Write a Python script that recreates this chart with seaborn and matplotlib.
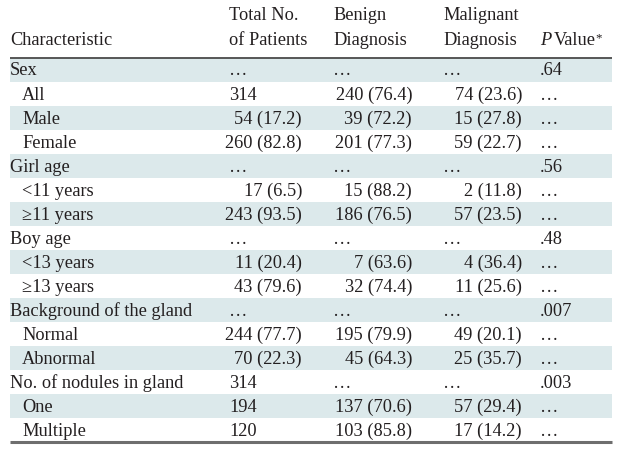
import matplotlib
matplotlib.use("Agg")
import matplotlib.pyplot as plt
import seaborn as sns

# table content
labels = ["Sex", "All", "Male", "Female", "Girl age", "<11 years", "\u226511 years",
          "Boy age", "<13 years", "\u226513 years", "Background of the gland",
          "Normal", "Abnormal", "No. of nodules in gland", "One", "Multiple"]
indent = [0, 1, 1, 1, 0, 1, 1, 0, 1, 1, 0, 1, 1, 0, 1, 1]
E = "\u2026"
total = [E, "314", "54 (17.2)", "260 (82.8)", E, "17 (6.5)", "243 (93.5)",
         E, "11 (20.4)", "43 (79.6)", E, "244 (77.7)", "70 (22.3)", "314", "194", "120"]
benign = [E, "240 (76.4)", "39 (72.2)", "201 (77.3)", E, "15 (88.2)", "186 (76.5)",
          E, "7 (63.6)", "32 (74.4)", E, "195 (79.9)", "45 (64.3)", E, "137 (70.6)", "103 (85.8)"]
malignant = [E, "74 (23.6)", "15 (27.8)", "59 (22.7)", E, "2 (11.8)", "57 (23.5)",
             E, "4 (36.4)", "11 (25.6)", E, "49 (20.1)", "25 (35.7)", E, "57 (29.4)", "17 (14.2)"]
pvalue = [".64", E, E, E, ".56", E, E, ".48", E, E, ".007", E, E, ".003", E, E]

headers_top = ["", "Total No.", "Benign", "Malignant"]
headers_bot = ["Characteristic", "of Patients", "Diagnosis", "Diagnosis"]

sns.set_theme(style="white")
plt.rcParams["font.family"] = ["Liberation Serif", "DejaVu Serif"]

fig = plt.figure(figsize=(6.18, 4.56), dpi=100)
ax = fig.add_axes([0, 0, 1, 1])
ax.set_xlim(0, 618)
ax.set_ylim(16.04, -2.958)
ax.axis("off")

ink = "#231f20"
shade = "#dce9eb"
fs = 13.2

x0, x1 = 10, 612
# column anchors: (left start, right end)
cols = [(229, 302), (333, 412), (443, 522)]

for i, lab in enumerate(labels):
    if i % 2 == 0:
        ax.fill_between([x0, x1], i - 0.5, i + 0.5, color=shade, lw=0, zorder=0)
    ax.text(x0 + (12 if indent[i] else 0), i, lab, fontsize=fs, color=ink,
            va="center", ha="left")
    for (xl, xr), col in zip(cols, [total, benign, malignant]):
        v = col[i]
        if "(" in v:
            ax.text(xr, i, v, fontsize=fs, color=ink, va="center", ha="right")
        else:
            ax.text(xl, i, v, fontsize=fs, color=ink, va="center", ha="left")
    ax.text(540, i, pvalue[i], fontsize=fs, color=ink, va="center", ha="left")

# header
for (xl, xr), t, b in zip([(x0, 0)] + cols, headers_top, headers_bot):
    ax.text(xl, -2.33, t, fontsize=fs, color=ink, va="center", ha="left")
    ax.text(xl, -1.25, b, fontsize=fs, color=ink, va="center", ha="left")
ptxt = ax.text(540, -1.25, "P", fontsize=fs, color=ink, va="center", ha="left", style="italic")
vtxt = ax.annotate("Value", xy=(1, 0), xycoords=ptxt, xytext=(1.5, 0),
                   textcoords="offset points", fontsize=fs, color=ink, va="bottom", ha="left")
ax.annotate("*", xy=(1, 1), xycoords=vtxt, xytext=(0.3, 0), textcoords="offset points",
            fontsize=fs * 0.7, color=ink, va="top", ha="left")

ax.plot([x0, x1], [-0.5, -0.5], color="#4a4a4a", lw=1.3, solid_capstyle="butt")
ax.plot([x0, x1], [15.5, 15.5], color="#6e6e6e", lw=2.2, solid_capstyle="butt")

fig.savefig("out.png", dpi=100)
